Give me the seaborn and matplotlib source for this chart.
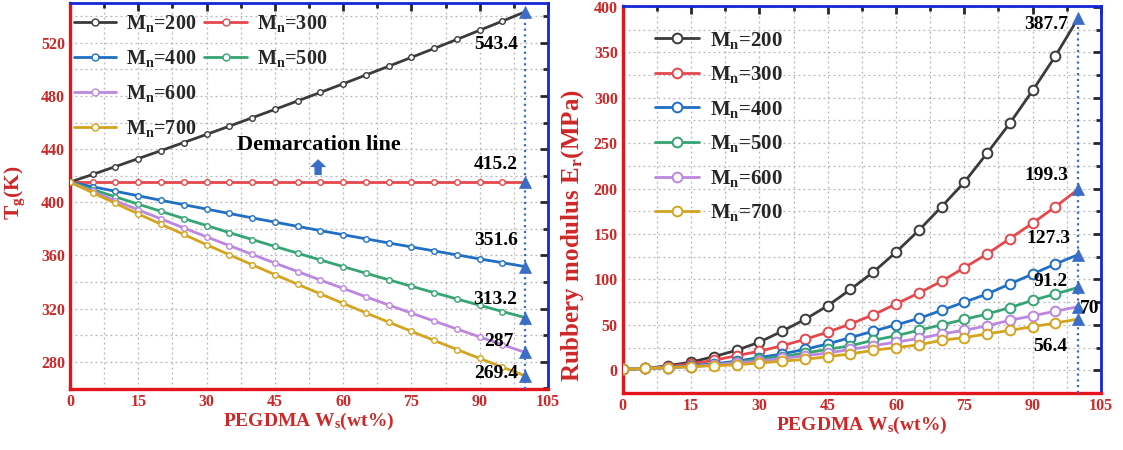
import numpy as np
import pandas as pd
import matplotlib
matplotlib.use("Agg")
import matplotlib.pyplot as plt
import seaborn as sns
from matplotlib.ticker import MultipleLocator
from matplotlib.lines import Line2D

# ---------------- data ----------------
ws = [0, 5, 10, 15, 20, 25, 30, 35, 40, 45, 50, 55, 60, 65, 70, 75, 80, 85, 90, 95, 100]
mn_labels = ["200", "300", "400", "500", "600", "700"]

tg_200 = [415.2, 421.0, 426.9, 432.9, 438.9, 445.0, 451.1, 457.3, 463.6, 469.9, 476.3,
          482.7, 489.2, 495.8, 502.4, 509.1, 515.8, 522.6, 529.5, 536.4, 543.4]
tg_300 = [415.2, 415.2, 415.2, 415.2, 415.2, 415.2, 415.2, 415.2, 415.2, 415.2, 415.2,
          415.2, 415.2, 415.2, 415.2, 415.2, 415.2, 415.2, 415.2, 415.2, 415.2]
tg_400 = [415.2, 411.7, 408.3, 404.9, 401.5, 398.2, 394.9, 391.6, 388.3, 385.1, 381.9,
          378.7, 375.6, 372.5, 369.4, 366.4, 363.4, 360.4, 357.4, 354.5, 351.6]
tg_500 = [415.2, 409.6, 404.1, 398.6, 393.2, 387.8, 382.5, 377.2, 372.0, 366.8, 361.7,
          356.6, 351.6, 346.6, 341.7, 336.8, 332.0, 327.2, 322.5, 317.8, 313.2]
tg_600 = [415.2, 408.2, 401.2, 394.3, 387.5, 380.7, 374.0, 367.4, 360.8, 354.3, 347.9,
          341.5, 335.2, 328.9, 322.7, 316.6, 310.6, 304.6, 298.7, 292.8, 287.0]
tg_700 = [415.2, 407.2, 399.2, 391.3, 383.5, 375.8, 368.1, 360.5, 353.0, 345.6, 338.3,
          331.1, 323.9, 316.8, 309.8, 302.9, 296.0, 289.2, 282.5, 275.9, 269.4]

er_200 = [1, 2, 5, 9, 15, 22, 31, 43, 56, 71, 89, 108, 130, 154, 180, 207, 239, 272, 308, 346, 387.7]
er_300 = [1, 2, 4, 7, 11, 16, 21, 27, 34, 42, 51, 61, 73, 85, 98, 113, 128, 145, 162, 180, 199.3]
er_400 = [1, 2, 3, 5, 7, 10, 14, 18, 23, 29, 36, 43, 50, 57, 66, 75, 84, 95, 106, 117, 127.3]
er_500 = [1, 2, 3, 4, 6, 9, 12, 15, 19, 23, 27, 33, 38, 44, 50, 56, 62, 69, 77, 84, 91.2]
er_600 = [1, 2, 3, 4, 6, 8, 10, 13, 16, 19, 23, 27, 31, 35, 40, 44, 49, 55, 60, 65, 70]
er_700 = [1, 2, 3, 4, 5, 6, 8, 10, 12, 15, 18, 22, 25, 28, 33, 36, 40, 44, 48, 52, 56.4]

tg_end_labels = ["543.4", "415.2", "351.6", "313.2", "287", "269.4"]
er_end_labels = ["387.7", "199.3", "127.3", "91.2", "70", "56.4"]

x_ticks = [0, 15, 30, 45, 60, 75, 90, 105]
tg_ticks = [280, 320, 360, 400, 440, 480, 520]
er_ticks = [0, 50, 100, 150, 200, 250, 300, 350, 400]

# ---------------- style ----------------
sns.set_style("white")
plt.rcParams["font.family"] = ["Liberation Serif", "DejaVu Serif"]
plt.rcParams["font.weight"] = "bold"
plt.rcParams["mathtext.fontset"] = "custom"
plt.rcParams["mathtext.rm"] = "Liberation Serif:bold"
plt.rcParams["mathtext.it"] = "Liberation Serif:bold"
plt.rcParams["mathtext.bf"] = "Liberation Serif:bold"

colors = ["#3b3b3b", "#e5474b", "#1f6fc4", "#35a572", "#bd86e0", "#d4a41f"]
tri_color = "#3a6cc8"
red_axis = "#e3141c"
blue_axis = "#1426d8"
tick_text = "#cf2727"
grid_color = "#b5b5b5"

fig = plt.figure(figsize=(11.23, 4.5), dpi=100)
axL = fig.add_axes([0.0623, 0.1356, 0.4257, 0.8577])
axR = fig.add_axes([0.5545, 0.1267, 0.4259, 0.8600])


def draw_series(ax, series, ms, mew, lw):
    for lab, ys, col in zip(mn_labels, series, colors):
        d = pd.DataFrame({"ws": ws, "v": ys})
        sns.lineplot(data=d, x="ws", y="v", ax=ax, color=col, lw=lw, marker="o",
                     markevery=list(range(len(ws) - 1)), ms=ms, mfc="white",
                     mec=col, mew=mew, errorbar=None, legend=False, zorder=3)
    ends = [s[-1] for s in series]
    sns.scatterplot(x=[ws[-1]] * len(ends), y=ends, ax=ax, marker="^", s=75,
                    color=tri_color, edgecolor=tri_color, linewidth=0.5,
                    zorder=5, legend=False)
    return ends


def style_axes(ax, ylim, yticks, ymin_step):
    ax.set_xlim(0, 105)
    ax.set_ylim(*ylim)
    ax.set_xticks(x_ticks)
    ax.set_yticks(yticks)
    ax.xaxis.set_minor_locator(MultipleLocator(7.5))
    ax.yaxis.set_minor_locator(MultipleLocator(ymin_step))
    ax.set_axisbelow(True)
    ax.grid(True, which="both", ls=(0, (1.5, 2.5)), color=grid_color, lw=0.9)
    for side in ["left", "bottom"]:
        ax.spines[side].set_color(red_axis)
        ax.spines[side].set_linewidth(2.4)
    for side in ["top", "right"]:
        ax.spines[side].set_color(blue_axis)
        ax.spines[side].set_linewidth(2.0)
    ax.tick_params(which="both", direction="in", top=True, right=True,
                   labelsize=11.5, labelcolor=tick_text, width=2)
    ax.tick_params(which="major", length=6)
    ax.tick_params(which="minor", length=3.5)
    for lbl in ax.get_xticklabels() + ax.get_yticklabels():
        lbl.set_fontweight("bold")
    for axis in (ax.xaxis, ax.yaxis):
        for t in axis.get_major_ticks() + axis.get_minor_ticks():
            t.tick1line.set_color(red_axis)
            t.tick2line.set_color(blue_axis)


# ---------------- left: Tg ----------------
tg_series = [tg_200, tg_300, tg_400, tg_500, tg_600, tg_700]
tg_ends = draw_series(axL, tg_series, ms=4, mew=1.0, lw=2.0)
style_axes(axL, (259.5, 550), tg_ticks, 20)
axL.vlines(ws[-1], ymin=axL.get_ylim()[0], ymax=max(tg_ends), colors=tri_color,
           linestyles=(0, (1, 1.6)), lw=1.6, zorder=4)
tg_offsets = [(-6.5, -24.5), (-6.5, 13), (-6.5, 20), (-6.5, 13.3), (-5.8, 8.6), (-6.5, 2.1)]
for lab, end, (dx, dy) in zip(tg_end_labels, tg_ends, tg_offsets):
    axL.text(ws[-1] + dx, end + dy, lab, ha="center", va="center", fontsize=14,
             fontweight="bold", color="black", zorder=6)
axL.text(54.6, 443.3, "Demarcation line", ha="center", va="center", fontsize=16,
         fontweight="bold", color="black")
axL.arrow(54.5, 420.5, 0, 12.0, width=1.6, head_width=3.6, head_length=6.0,
          length_includes_head=True, color=tri_color, lw=0, zorder=4)
axL.set_xlabel(r"PEGDMA W$_\mathrm{s}$(wt%)", fontsize=14, fontweight="bold",
               color=tick_text, labelpad=1)
axL.set_ylabel(r"T$_\mathrm{g}$(K)", fontsize=15.5, fontweight="bold",
               color=tick_text)
axL.yaxis.set_label_coords(-0.090, 0.508)

handles = [Line2D([], [], color=c, lw=2.0, marker="o", ms=5, mfc="white", mec=c, mew=1.0)
           for c in colors]
labels = [r"M$_\mathrm{n}$=" + m for m in mn_labels]
blank = Line2D([], [], alpha=0)
order = [0, 2, 4, 5, 1, 3]
legL = axL.legend([handles[i] for i in order] + [blank, blank],
                  [labels[i] for i in order] + ["", ""],
                  ncol=2, loc="upper left", bbox_to_anchor=(-0.005, 0.99),
                  frameon=False, fontsize=14.5, handlelength=2.1, handletextpad=0.5,
                  columnspacing=0.4, labelspacing=0.7, borderaxespad=0.1,
                  borderpad=0.2)

# ---------------- right: Er ----------------
er_series = [er_200, er_300, er_400, er_500, er_600, er_700]
er_ends = draw_series(axR, er_series, ms=7, mew=1.4, lw=2.0)
style_axes(axR, (-25, 401), er_ticks, 25)
axR.vlines(ws[-1], ymin=axR.get_ylim()[0], ymax=max(er_ends), colors=tri_color,
           linestyles=(0, (1, 1.6)), lw=1.6, zorder=4)
er_offsets = [(-7, -7.5), (-7, 15.5), (-6.5, 18), (-6, 7), (2.6, -1.5), (-6.2, -30)]
for lab, end, (dx, dy) in zip(er_end_labels, er_ends, er_offsets):
    axR.text(ws[-1] + dx, end + dy, lab, ha="center", va="center", fontsize=14,
             fontweight="bold", color="black", zorder=6)
axR.set_xlabel(r"PEGDMA W$_\mathrm{s}$(wt%)", fontsize=14, fontweight="bold",
               color=tick_text, labelpad=1)
axR.set_ylabel(r"Rubbery modulus E$_\mathrm{r}$(MPa)", fontsize=18, fontweight="bold",
               color=tick_text)
axR.yaxis.set_label_coords(-0.077, 0.408)

handlesR = [Line2D([], [], color=c, lw=2.0, marker="o", ms=7, mfc="white", mec=c, mew=1.4)
            for c in colors]
axR.legend(handlesR, labels, loc="upper left", bbox_to_anchor=(0.055, 0.955),
           frameon=False, fontsize=15, handlelength=2.1, handletextpad=0.55,
           labelspacing=0.65, borderaxespad=0.1, borderpad=0.2)

fig.savefig("out.png", dpi=100)
